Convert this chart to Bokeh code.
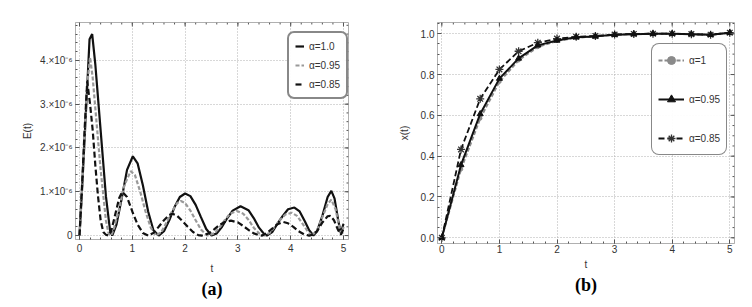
import numpy as np
from bokeh.plotting import figure
from bokeh.layouts import row
from bokeh.models import (Legend, LegendItem, SingleIntervalTicker, Range1d,
                          CustomJSTickFormatter, PrintfTickFormatter, Title)
from bokeh.embed import file_html
from bokeh.resources import INLINE

# ---------------- Panel (a): E(t), values in units of 1e-6 ----------------
t_a1 = [0, 0.05, 0.1, 0.15, 0.19, 0.24, 0.3, 0.4, 0.5, 0.58, 0.62,
        0.7, 0.8, 0.9, 1.01, 1.1, 1.2, 1.3, 1.4, 1.5,
        1.6, 1.7, 1.8, 1.9, 2.0, 2.1, 2.2, 2.3, 2.4, 2.5,
        2.6, 2.7, 2.8, 2.9, 3.05, 3.2, 3.3, 3.4, 3.5, 3.55,
        3.65, 3.75, 3.85, 3.95, 4.07, 4.17, 4.27, 4.35, 4.43,
        4.5, 4.6, 4.7, 4.77, 4.83, 4.9, 4.95, 5.0]
E_a1 = [0, 1.1, 2.3, 3.5, 4.48, 4.6, 3.9, 2.4, 0.9, 0.1, 0.0,
        0.25, 0.85, 1.5, 1.81, 1.65, 1.15, 0.55, 0.12, 0.0,
        0.1, 0.35, 0.65, 0.88, 0.96, 0.9, 0.7, 0.42, 0.15, 0.0,
        0.05, 0.2, 0.4, 0.57, 0.67, 0.58, 0.4, 0.18, 0.03, 0.0,
        0.08, 0.27, 0.45, 0.6, 0.64, 0.55, 0.32, 0.12, 0.0,
        0.1, 0.45, 0.88, 1.02, 0.85, 0.35, 0.05, 0.27]

t_a095 = [0, 0.05, 0.1, 0.15, 0.2, 0.25, 0.3, 0.4, 0.5, 0.55, 0.6,
          0.65, 0.75, 0.85, 0.97, 1.05, 1.15, 1.25, 1.35, 1.45,
          1.55, 1.65, 1.75, 1.85, 1.92, 2.0, 2.1, 2.2, 2.3, 2.42,
          2.55, 2.65, 2.75, 2.85, 2.98, 3.1, 3.2, 3.3, 3.4, 3.5,
          3.6, 3.7, 3.8, 3.9, 4.02, 4.12, 4.22, 4.32, 4.4,
          4.5, 4.6, 4.7, 4.77, 4.85, 4.92, 4.97, 5.0]
E_a095 = [0, 1.1, 2.3, 3.5, 4.07, 3.6, 2.9, 1.5, 0.35, 0.05, 0.0,
          0.15, 0.6, 1.15, 1.47, 1.38, 1.0, 0.55, 0.18, 0.0,
          0.08, 0.3, 0.55, 0.74, 0.79, 0.74, 0.57, 0.35, 0.14, 0.0,
          0.05, 0.18, 0.35, 0.5, 0.56, 0.5, 0.36, 0.18, 0.05, 0.0,
          0.06, 0.2, 0.36, 0.48, 0.52, 0.45, 0.28, 0.1, 0.0,
          0.12, 0.42, 0.72, 0.82, 0.6, 0.2, 0.05, 0.2]

t_a085 = [0, 0.05, 0.1, 0.146, 0.2, 0.25, 0.3, 0.35, 0.4, 0.45, 0.5, 0.55,
          0.6, 0.65, 0.7, 0.75, 0.81, 0.9, 1.0, 1.1, 1.2, 1.3,
          1.4, 1.5, 1.6, 1.7, 1.76, 1.85, 1.95, 2.05, 2.15, 2.25, 2.32,
          2.45, 2.55, 2.65, 2.75, 2.87, 3.0, 3.1, 3.2, 3.3, 3.4, 3.46,
          3.55, 3.65, 3.75, 3.86, 3.95, 4.05, 4.15, 4.25, 4.35,
          4.42, 4.5, 4.6, 4.7, 4.75, 4.82, 4.9, 4.95, 5.0]
E_a085 = [0, 1.2, 2.5, 3.52, 3.0, 2.4, 1.6, 0.9, 0.35, 0.08, 0.02, 0.0,
          0.1, 0.35, 0.6, 0.85, 1.0, 0.88, 0.55, 0.25, 0.06, 0.0,
          0.06, 0.2, 0.35, 0.47, 0.5, 0.45, 0.33, 0.2, 0.08, 0.01, 0.0,
          0.05, 0.14, 0.24, 0.31, 0.34, 0.3, 0.22, 0.13, 0.05, 0.01, 0.0,
          0.06, 0.16, 0.26, 0.31, 0.28, 0.2, 0.1, 0.03, 0.0,
          0.02, 0.1, 0.3, 0.44, 0.45, 0.35, 0.12, 0.02, 0.15]

labels_a = ["α=1.0", "α=0.95", "α=0.85"]

# ---------------- Panel (b): x(t) ----------------
t_b = [0, 1/3, 2/3, 1, 4/3, 5/3, 2, 7/3, 8/3, 3, 10/3, 11/3, 4, 13/3, 14/3, 5]
x_b1 = [0, 0.336, 0.585, 0.765, 0.87, 0.935, 0.965, 0.98, 0.987, 0.995, 0.998, 1.0, 1.0, 0.998, 0.995, 1.005]
x_b095 = [0, 0.357, 0.607, 0.78, 0.879, 0.943, 0.967, 0.983, 0.987, 0.995, 0.998, 1.0, 1.0, 0.998, 0.995, 1.005]
x_b085 = [0, 0.433, 0.681, 0.825, 0.914, 0.956, 0.976, 0.985, 0.989, 0.996, 0.999, 1.0, 1.0, 0.998, 0.995, 1.005]
labels_b = ["α=1", "α=0.95", "α=0.85"]

FONT = "Liberation Sans"
FRAME = "#b0b0b0"
TICKC = "#555555"


def style_axes(p, xt, yt, yformatter, x_minor, y_minor, frame_w, frame_h):
    for ax in p.xaxis + p.yaxis:
        ax.axis_line_color = FRAME
        ax.major_tick_line_color = TICKC
        ax.minor_tick_line_color = TICKC
        ax.major_tick_in = 4
        ax.major_tick_out = 0
        ax.minor_tick_in = 2
        ax.minor_tick_out = 0
        ax.major_label_text_font = FONT
        ax.major_label_text_font_size = "10px"
        ax.major_label_text_color = "#333333"
        ax.axis_label_text_font = FONT
        ax.axis_label_text_font_size = "10px"
        ax.axis_label_text_font_style = "normal"
        ax.axis_label_text_color = "#333333"
    p.xaxis.ticker = xt
    p.yaxis.ticker = yt
    p.yaxis.formatter = yformatter
    p.xgrid.ticker = xt
    p.ygrid.ticker = yt
    for g in (p.xgrid, p.ygrid):
        g.grid_line_color = "#b0b0b0"
        g.grid_line_dash = "1 2"
        g.grid_line_width = 1
    p.outline_line_color = FRAME
    # mirrored inward ticks on the top and right frame edges
    xr, yr = p.x_range, p.y_range
    dy = (yr.end - yr.start) / frame_h
    dx = (xr.end - xr.start) / frame_w
    xmaj = np.arange(0, xr.end + 1e-9, xt.interval)
    xmin = np.arange(0, xr.end + 1e-9, xt.interval / x_minor)
    ymaj = np.arange(0, yr.end + 1e-9, yt.interval)
    ymin = np.arange(0, yr.end + 1e-9, yt.interval / y_minor)
    p.segment(x0=xmaj, x1=xmaj, y0=[yr.end] * len(xmaj), y1=[yr.end - 4 * dy] * len(xmaj),
              line_color=TICKC, line_width=1)
    p.segment(x0=xmin, x1=xmin, y0=[yr.end] * len(xmin), y1=[yr.end - 2 * dy] * len(xmin),
              line_color=TICKC, line_width=1)
    p.segment(x0=[xr.end] * len(ymaj), x1=[xr.end - 4 * dx] * len(ymaj), y0=ymaj, y1=ymaj,
              line_color=TICKC, line_width=1)
    p.segment(x0=[xr.end] * len(ymin), x1=[xr.end - 2 * dx] * len(ymin), y0=ymin, y1=ymin,
              line_color=TICKC, line_width=1)


def add_title(p, txt):
    t = Title(text=txt, align="center", text_font="Liberation Serif",
              text_font_size="18px", text_font_style="bold", text_color="#000000",
              standoff=0, offset=0)
    p.add_layout(t, "below")


def set_legend_radius(leg, r):
    if "border_radius" in leg.properties():
        leg.border_radius = r


# ---- figure (a): frame 75..348 x 20..239
pa = figure(width=376, height=300, output_backend="svg", toolbar_location=None,
            x_range=Range1d(-0.076, 5.095), y_range=Range1d(-0.09, 4.864),
            min_border_left=75, min_border_right=28, min_border_top=20, min_border_bottom=61,
            background_fill_color="white", border_fill_color="white")
pa.xaxis.axis_label = "t"
pa.yaxis.axis_label = "E(t)"
ra1 = pa.line(t_a1, E_a1, line_color="#111111", line_width=2.2)
ra2 = pa.line(t_a095, E_a095, line_color="#999999", line_width=2.2, line_dash="4 2")
ra3 = pa.line(t_a085, E_a085, line_color="#111111", line_width=2.2, line_dash="6 3")
style_axes(pa, SingleIntervalTicker(interval=1, num_minor_ticks=5),
           SingleIntervalTicker(interval=1, num_minor_ticks=5),
           CustomJSTickFormatter(code="return tick == 0 ? '0' : tick.toFixed(0) + '.×10⁻⁶';"),
           5, 5, 273, 219)
pa.xaxis.major_label_standoff = 4
pa.yaxis.major_label_standoff = 3
pa.xaxis[0].axis_label_standoff = 8
pa.yaxis[0].axis_label_standoff = 4
leg_a = Legend(items=[LegendItem(label=labels_a[0], renderers=[ra1]),
                      LegendItem(label=labels_a[1], renderers=[ra2]),
                      LegendItem(label=labels_a[2], renderers=[ra3])],
               location=(212, 140), glyph_width=9, glyph_height=14, label_height=14,
               spacing=5, padding=6, label_standoff=5, margin=0,
               label_text_font=FONT, label_text_font_size="10px", label_text_color="#333333",
               border_line_color="#111111", border_line_width=2, background_fill_color="white")
set_legend_radius(leg_a, 7)
pa.add_layout(leg_a, "center")
add_title(pa, "(a)")

# ---- figure (b): frame 437..734 x 22..245
pb = figure(width=376, height=304, output_backend="svg", toolbar_location=None,
            x_range=Range1d(-0.075, 5.082), y_range=Range1d(-0.028, 1.055),
            min_border_left=61, min_border_right=18, min_border_top=22, min_border_bottom=59,
            background_fill_color="white", border_fill_color="white")
pb.xaxis.axis_label = "t"
pb.yaxis.axis_label = "x(t)"
rb1l = pb.line(t_b, x_b1, line_color="#8a8a8a", line_width=2, line_dash="4 2")
rb1m = pb.scatter(t_b, x_b1, marker="circle", size=3.5, color="#8a8a8a")
rb3l = pb.line(t_b, x_b085, line_color="#111111", line_width=1.8, line_dash="6 3")
rb3m = pb.scatter(t_b, x_b085, marker="asterisk", size=8, line_color="#333333", line_width=1.3)
rb2l = pb.line(t_b, x_b095, line_color="#111111", line_width=2)
rb2m = pb.scatter(t_b, x_b095, marker="triangle", size=6, color="#111111")
style_axes(pb, SingleIntervalTicker(interval=1, num_minor_ticks=5),
           SingleIntervalTicker(interval=0.2, num_minor_ticks=4),
           PrintfTickFormatter(format="%.1f"), 5, 4, 297, 223)
pb.xaxis.major_label_standoff = 1
pb.yaxis.major_label_standoff = 3
pb.xaxis[0].axis_label_standoff = 3
pb.yaxis[0].axis_label_standoff = 8
leg_b = Legend(items=[LegendItem(label=labels_b[0], renderers=[rb1l, rb1m]),
                      LegendItem(label=labels_b[1], renderers=[rb2l, rb2m]),
                      LegendItem(label=labels_b[2], renderers=[rb3l, rb3m])],
               location=(214, 88), glyph_width=26, glyph_height=20, label_height=20,
               spacing=19, padding=6, label_standoff=5, margin=0,
               label_text_font=FONT, label_text_font_size="10px", label_text_color="#333333",
               border_line_color="#111111", border_line_width=1.5, background_fill_color="white")
set_legend_radius(leg_b, 8)
pb.add_layout(leg_b, "center")
add_title(pb, "(b)")

layout = row(pa, pb)
open("out.html", "w").write(file_html(layout, INLINE))
